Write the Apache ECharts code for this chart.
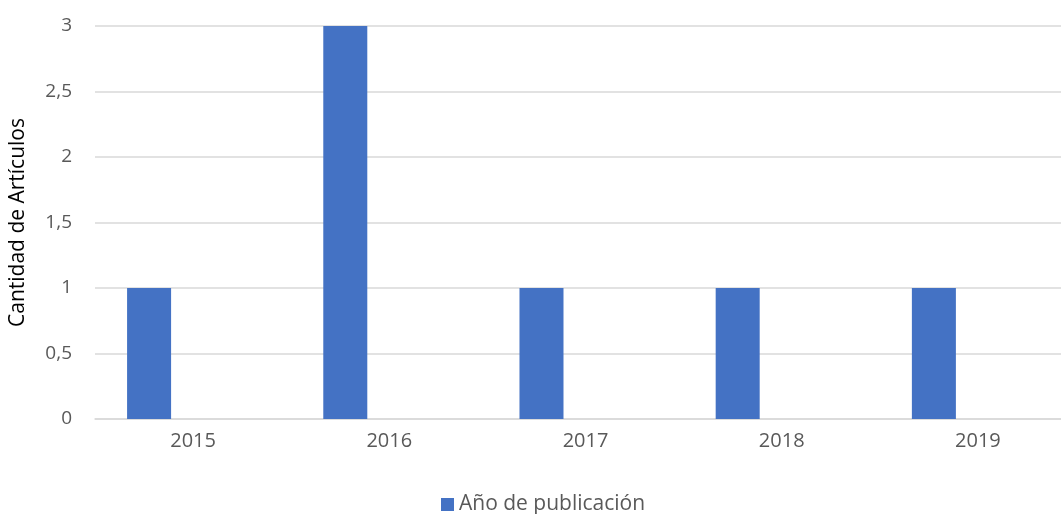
<!DOCTYPE html>
<html><head><meta charset="utf-8">
<script src="https://cdn.jsdelivr.net/npm/echarts@6/dist/echarts.min.js"></script>
<style>html,body{margin:0;padding:0;background:#fff;overflow:hidden}#c{width:1061px;height:514px}</style>
</head><body><div id="c"></div>
<script>
const categories = ['2015','2016','2017','2018','2019'];
const seriesName = 'Año de publicación';
const values = [1, 3, 1, 1, 1];
const yTicks = {min: 0, max: 3, interval: 0.5};
const yAxisTitle = 'Cantidad de Artículos';

const font = 'Open Sans';
const txt = '#595959';
const chart = echarts.init(document.getElementById('c'));
const empty = categories.map(() => null);
chart.setOption({
  animation: false,
  grid: {left: 95, right: -15, top: 26, bottom: 95, containLabel: false, outerBoundsMode: 'none'},
  legend: {
    top: 489, left: 436, data: [seriesName], icon: 'rect',
    itemWidth: 13, itemHeight: 13, itemGap: 5,
    textStyle: {color: txt, fontFamily: font, fontSize: 21}
  },
  xAxis: {
    type: 'category', data: categories,
    axisLine: {lineStyle: {color: '#d9d9d9', width: 1.5}},
    axisTick: {show: false},
    axisLabel: {color: txt, fontFamily: font, fontSize: 20, margin: 12}
  },
  yAxis: {
    type: 'value', min: yTicks.min, max: yTicks.max, interval: yTicks.interval,
    name: yAxisTitle, nameLocation: 'middle', nameGap: 66, nameRotate: 90,
    nameTextStyle: {color: '#000', fontFamily: font, fontSize: 21},
    axisLine: {show: false}, axisTick: {show: false},
    splitLine: {lineStyle: {color: '#d9d9d9', width: 1.5}},
    axisLabel: {color: txt, fontFamily: font, fontSize: 19, margin: 23,
      formatter: v => String(v).replace('.', ',')}
  },
  series: [
    {name: seriesName, type: 'bar', data: values, barGap: '0%', barCategoryGap: '32.7%',
     itemStyle: {color: '#4472c4'}},
    {name: 's2', type: 'bar', data: empty, barGap: '0%', barCategoryGap: '32.7%'},
    {name: 's3', type: 'bar', data: empty, barGap: '0%', barCategoryGap: '32.7%'}
  ]
});
</script></body></html>
